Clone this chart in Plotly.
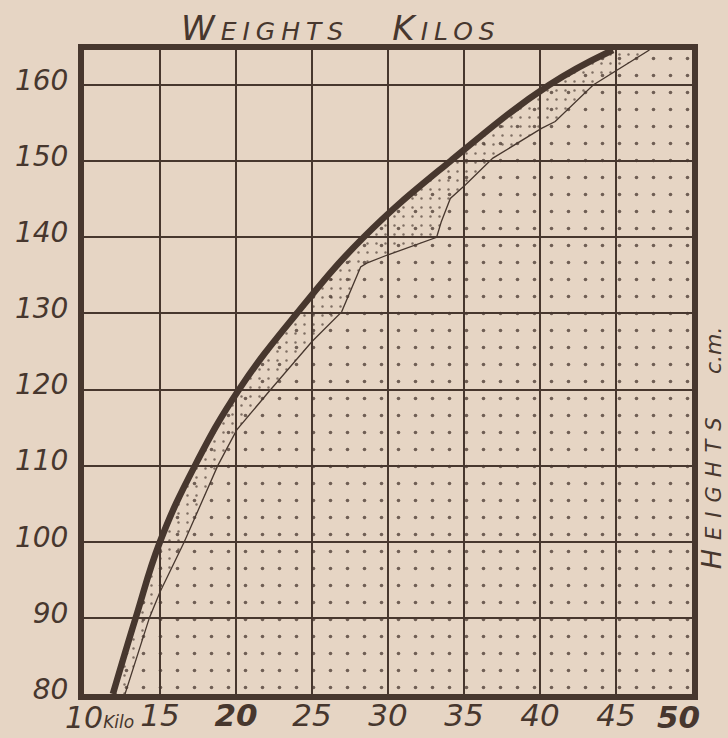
import plotly.graph_objects as go

# ---- data ----
weight_ticks = [10, 15, 20, 25, 30, 35, 40, 45, 50]
weight_labels = ["", "15", "<b>20</b>", "25", "30", "35", "40", "45", ""]
height_ticks = [80, 90, 100, 110, 120, 130, 140, 150, 160]
height_labels = ["80", "90", "100", "110", "120", "130", "140", "150", "160"]

# thick (upper) curve: weight (kg) vs height (cm)
thick_kg = [11.9, 13.4, 15.0, 17.3, 20.2, 24.0, 28.4, 34.1, 40.6, 44.8]
thick_cm = [80, 90, 100, 110, 120, 130, 140, 150, 160, 164.6]

# thin (lower) curve
thin_kg = [12.7, 14.3, 15.0, 16.6, 18.8, 20.05, 22.2, 25.0, 26.95, 28.2, 28.6, 30.0,
           33.2, 33.5, 34.1, 35.1, 36.9, 40.1, 41.0, 43.5, 47.2]
thin_cm = [80, 90, 93.4, 100, 110, 114.7, 119.8, 126.3, 130.2, 136.1, 136.6, 137.7,
           140.0, 142.0, 145.1, 146.9, 150.4, 154.3, 155.2, 160, 164.6]

x_range = [10, 50]
y_range = [80, 164.6]

INK = "#47372e"
PAPER = "#e6d5c4"
FONT = "DejaVu Sans"

fig = go.Figure()

# right edge used as fill boundary
fig.add_trace(go.Scatter(x=[x_range[1], x_range[1]], y=y_range, mode="lines",
                         line=dict(width=0), hoverinfo="skip", showlegend=False))
# sparse stipple: right of the thick curve
fig.add_trace(go.Scatter(x=thick_kg, y=thick_cm, mode="lines", fill="tonextx",
                         line=dict(width=0, shape="spline"),
                         fillcolor="rgba(0,0,0,0)",
                         fillpattern=dict(shape=".", size=17, solidity=0.035,
                                          fgcolor=INK, fgopacity=0.75,
                                          bgcolor="rgba(0,0,0,0)"),
                         hoverinfo="skip", showlegend=False))
# denser stipple between thick and thin curves
fig.add_trace(go.Scatter(x=thin_kg, y=thin_cm, mode="lines", fill="tonextx",
                         line=dict(width=0),
                         fillcolor="rgba(0,0,0,0)",
                         fillpattern=dict(shape=".", size=9, solidity=0.06,
                                          fgcolor=INK, fgopacity=0.65,
                                          bgcolor="rgba(0,0,0,0)"),
                         hoverinfo="skip", showlegend=False))
# the lines themselves
fig.add_trace(go.Scatter(x=thin_kg, y=thin_cm, mode="lines",
                         line=dict(color=INK, width=1.3),
                         hoverinfo="skip", showlegend=False))
fig.add_trace(go.Scatter(x=thick_kg, y=thick_cm, mode="lines",
                         line=dict(color=INK, width=6.5, shape="spline", smoothing=1.2),
                         hoverinfo="skip", showlegend=False))

fig.update_xaxes(range=x_range, tickvals=weight_ticks, ticktext=weight_labels,
                 showgrid=True, gridcolor=INK, gridwidth=1.5, zeroline=False,
                 showline=True, mirror=True, linewidth=6, linecolor=INK,
                 ticks="", ticklabelstandoff=-11, automargin=False,
                 tickfont=dict(family=FONT, size=31, color=INK, style="italic"))
fig.update_yaxes(range=y_range, tickvals=height_ticks, ticktext=height_labels,
                 showgrid=True, gridcolor=INK, gridwidth=1.5, zeroline=False,
                 showline=True, mirror=True, linewidth=6, linecolor=INK,
                 ticks="", ticklabelstandoff=4, ticklabelshift=-5, automargin=False,
                 tickfont=dict(family=FONT, size=28, color=INK, style="italic"))

fig.add_annotation(xref="x", yref="paper", x=weight_ticks[0], y=0, xshift=15, yshift=-4,
                   yanchor="top", xanchor="center", showarrow=False,
                   text="10<span style='font-size:17px'>Kilo</span>",
                   font=dict(family=FONT, size=30, color=INK, style="italic"))
fig.add_annotation(xref="x", yref="paper", x=weight_ticks[-1], y=0, xshift=-14, yshift=-3,
                   yanchor="top", xanchor="center", showarrow=False,
                   text="<b>50</b>",
                   font=dict(family=FONT, size=31, color=INK, style="italic"))

fig.add_annotation(xref="paper", yref="paper", x=0.4227, y=1.034,
                   xanchor="center", yanchor="middle", showarrow=False,
                   text="<span style='letter-spacing:6px'>W<span style='font-size:25px'>EIGHTS</span></span>"
                        "&nbsp;&nbsp;&nbsp;&nbsp;"
                        "<span style='letter-spacing:6px'>K<span style='font-size:25px'>ILOS</span></span>",
                   font=dict(family=FONT, size=34, color=INK, style="italic", weight=300))

fig.add_annotation(xref="paper", yref="paper", x=1.0335, y=0.382,
                   xanchor="center", yanchor="middle", showarrow=False, textangle=-90,
                   text="<span style='letter-spacing:9px'>H<span style='font-size:21px'>EIGHTS</span></span>"
                        "&nbsp;&nbsp;&nbsp;&nbsp;<span style='font-size:22px'>c.m.</span>",
                   font=dict(family=FONT, size=27, color=INK, style="italic", weight=300))

fig.update_layout(width=728, height=738, paper_bgcolor=PAPER, plot_bgcolor=PAPER,
                  margin=dict(l=84, r=36, t=50, b=44, autoexpand=False), showlegend=False)

fig.write_html("out.html", config={"displayModeBar": False},
               post_script="document.body.style.margin='0';document.body.style.background='%s';" % PAPER)
